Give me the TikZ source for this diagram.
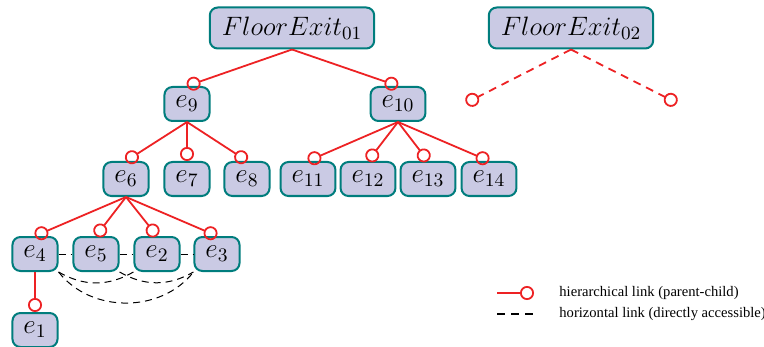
\RequirePackage{fix-cm}
\documentclass[tikz,border=0pt]{standalone}
\usepackage{amsmath,amssymb}
\usepackage{fontspec}
\usepackage{tikz}
\usetikzlibrary{arrows.meta,positioning}
\newfontfamily\legfont{Liberation Serif}
\definecolor{boxfill}{RGB}{202,202,228}
\definecolor{boxline}{RGB}{0,125,125}
\definecolor{linkred}{RGB}{237,34,36}
\tikzset{
	elem/.style={draw=boxline,fill=boxfill,line width=1pt,rounded corners=4pt,minimum width=21pt,minimum height=17pt,inner xsep=5.5pt,inner ysep=2pt,font=\fontsize{13.6}{16}\selectfont},
	exitbox/.style={elem,minimum height=20.5pt,inner xsep=6pt,font=\fontsize{13.3}{15}\selectfont},
	hier/.style={draw=linkred,line width=0.9pt,-{Circle[open,length=7pt,width=7pt]}},
	horiz/.style={draw=black,line width=0.5pt,dash pattern=on 3.5pt off 2.5pt},
	legtext/.style={anchor=west,inner sep=0pt,font=\legfont\fontsize{7.3}{9}\selectfont},
}
\begin{document}
\begin{tikzpicture}[x=0.5pt,y=-0.5pt] %Etagen
		\useasboundingbox (0,0) rectangle (764,347);
		% Knoten
		\node[exitbox] (fe1) at (292,28) {$FloorExit_{01}$};
		\node[exitbox] (fe2) at (571,28) {$FloorExit_{02}$};
		\node[elem] (e9) at (187,104) {$e_{9}$};
		\node[elem] (e10) at (398,104) {$e_{10}$};
		\node[elem] (e6) at (126,179) {$e_{6}$};
		\node[elem] (e7) at (187,179) {$e_{7}$};
		\node[elem] (e8) at (247,179) {$e_{8}$};
		\node[elem] (e11) at (308,179) {$e_{11}$};
		\node[elem] (e12) at (368,179) {$e_{12}$};
		\node[elem] (e13) at (428,179) {$e_{13}$};
		\node[elem] (e14) at (489,179) {$e_{14}$};
		\node[elem] (e4) at (35,254) {$e_{4}$};
		\node[elem] (e5) at (96,254) {$e_{5}$};
		\node[elem] (e2) at (157,254) {$e_{2}$};
		\node[elem] (e3) at (217,254) {$e_{3}$};
		\node[elem] (e1) at (35,330) {$e_{1}$};
		% Hierarchie
		\draw[hier] (fe1.south) -- (e9.north);
		\draw[hier] (fe1.south) -- (e10.north);
		\foreach \c in {e6,e7,e8}
			\draw[hier] (e9.south) -- (\c.north);
		\foreach \c in {e11,e12,e13,e14}
			\draw[hier] (e10.south) -- (\c.north);
		\foreach \c in {e4,e5,e2,e3}
			\draw[hier] (e6.south) -- (\c.north);
		\draw[hier] (e4.south) -- (e1.north);
		\coordinate (fe2l) at (466,103);
		\coordinate (fe2r) at (677,103);
		\draw[hier,dash pattern=on 4pt off 3pt] (fe2.south) -- (fe2l);
		\draw[hier,dash pattern=on 4pt off 3pt] (fe2.south) -- (fe2r);
		% horizontale Verbindungen
		\draw[horiz] (e4.east) -- (e5.west);
		\draw[horiz] (e5.east) -- (e2.west);
		\draw[horiz] (e2.east) -- (e3.west);
		\draw[horiz] (e4.south east) to[bend right=30] (e2.south west);
		\draw[horiz] (e5.south east) to[bend right=30] (e3.south west);
		\draw[horiz] (e4.south east) to[bend right=52] (e3.south west);
		% Legende
		\coordinate (lg1a) at (497,293);
		\coordinate (lg1b) at (534,293);
		\coordinate (lg2a) at (497,314);
		\coordinate (lg2b) at (533,314);
		\draw[hier] (lg1a) -- (lg1b);
		\draw[line width=1pt,dash pattern=on 4pt off 3pt] (lg2a) -- (lg2b);
		\node[legtext] (lt1) at (559,293) {hierarchical link (parent-child)};
		\node[legtext] (lt2) at (559,314) {horizontal link (directly accessible)};
\end{tikzpicture}
\end{document}
